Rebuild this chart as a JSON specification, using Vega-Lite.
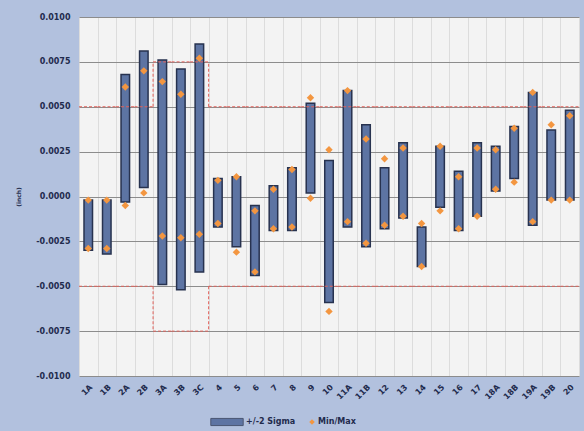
{
  "$schema": "https://vega.github.io/schema/vega-lite/v6.json",
  "width": 500,
  "height": 359,
  "autosize": {"type": "none"},
  "padding": {"left": 79, "top": 17, "right": 5, "bottom": 55},
  "background": "#b2c1de",
  "config": {
    "view": {"fill": "#f3f3f3", "stroke": "#c9ccd3"},
    "font": "DejaVu Sans",
    "axis": {"labelFont": "DejaVu Sans", "labelFontWeight": "bold", "labelColor": "#1f2b4d", "titleColor": "#1f2b4d"},
    "legend": {"labelFont": "DejaVu Sans", "labelFontWeight": "bold", "labelColor": "#1f2b4d", "labelFontSize": 8}
  },
  "datasets": {
    "stats": [
      {"cat": "1A", "lo": -0.0030, "hi": -0.0002, "min": -0.0029, "max": -0.0002, "up": 0.005, "dn": -0.005},
      {"cat": "1B", "lo": -0.0032, "hi": -0.0002, "min": -0.0029, "max": -0.0002, "up": 0.005, "dn": -0.005},
      {"cat": "2A", "lo": -0.0003, "hi": 0.0068, "min": -0.0005, "max": 0.0061, "up": 0.005, "dn": -0.005},
      {"cat": "2B", "lo": 0.0005, "hi": 0.0081, "min": 0.0002, "max": 0.0070, "up": 0.005, "dn": -0.005},
      {"cat": "3A", "lo": -0.0049, "hi": 0.0076, "min": -0.0022, "max": 0.0064, "up": 0.0075, "dn": -0.0075},
      {"cat": "3B", "lo": -0.0052, "hi": 0.0071, "min": -0.0023, "max": 0.0057, "up": 0.0075, "dn": -0.0075},
      {"cat": "3C", "lo": -0.0042, "hi": 0.0085, "min": -0.0021, "max": 0.0077, "up": 0.0075, "dn": -0.0075},
      {"cat": "4", "lo": -0.0017, "hi": 0.0010, "min": -0.0015, "max": 0.0009, "up": 0.005, "dn": -0.005},
      {"cat": "5", "lo": -0.0028, "hi": 0.0011, "min": -0.0031, "max": 0.0011, "up": 0.005, "dn": -0.005},
      {"cat": "6", "lo": -0.0044, "hi": -0.0005, "min": -0.0042, "max": -0.0008, "up": 0.005, "dn": -0.005},
      {"cat": "7", "lo": -0.0019, "hi": 0.0006, "min": -0.0018, "max": 0.0004, "up": 0.005, "dn": -0.005},
      {"cat": "8", "lo": -0.0019, "hi": 0.0016, "min": -0.0017, "max": 0.0015, "up": 0.005, "dn": -0.005},
      {"cat": "9", "lo": 0.0002, "hi": 0.0052, "min": -0.0001, "max": 0.0055, "up": 0.005, "dn": -0.005},
      {"cat": "10", "lo": -0.0059, "hi": 0.0020, "min": -0.0064, "max": 0.0026, "up": 0.005, "dn": -0.005},
      {"cat": "11A", "lo": -0.0017, "hi": 0.0059, "min": -0.0014, "max": 0.0059, "up": 0.005, "dn": -0.005},
      {"cat": "11B", "lo": -0.0028, "hi": 0.0040, "min": -0.0026, "max": 0.0032, "up": 0.005, "dn": -0.005},
      {"cat": "12", "lo": -0.0018, "hi": 0.0016, "min": -0.0016, "max": 0.0021, "up": 0.005, "dn": -0.005},
      {"cat": "13", "lo": -0.0012, "hi": 0.0030, "min": -0.0011, "max": 0.0027, "up": 0.005, "dn": -0.005},
      {"cat": "14", "lo": -0.0039, "hi": -0.0017, "min": -0.0039, "max": -0.0015, "up": 0.005, "dn": -0.005},
      {"cat": "15", "lo": -0.0006, "hi": 0.0028, "min": -0.0008, "max": 0.0028, "up": 0.005, "dn": -0.005},
      {"cat": "16", "lo": -0.0019, "hi": 0.0014, "min": -0.0018, "max": 0.0011, "up": 0.005, "dn": -0.005},
      {"cat": "17", "lo": -0.0011, "hi": 0.0030, "min": -0.0011, "max": 0.0027, "up": 0.005, "dn": -0.005},
      {"cat": "18A", "lo": 0.0003, "hi": 0.0028, "min": 0.0004, "max": 0.0026, "up": 0.005, "dn": -0.005},
      {"cat": "18B", "lo": 0.0010, "hi": 0.0039, "min": 0.0008, "max": 0.0038, "up": 0.005, "dn": -0.005},
      {"cat": "19A", "lo": -0.0016, "hi": 0.0058, "min": -0.0014, "max": 0.0058, "up": 0.005, "dn": -0.005},
      {"cat": "19B", "lo": -0.0002, "hi": 0.0037, "min": -0.0002, "max": 0.0040, "up": 0.005, "dn": -0.005},
      {"cat": "20", "lo": -0.0002, "hi": 0.0048, "min": -0.0002, "max": 0.0045, "up": 0.005, "dn": -0.005}
    ],
    "steps": [
      {"cat": "3A", "a": 0.005, "b": 0.0075},
      {"cat": "3A", "a": -0.005, "b": -0.0075},
      {"cat": "4", "a": 0.005, "b": 0.0075},
      {"cat": "4", "a": -0.005, "b": -0.0075}
    ]
  },
  "layer": [
    {
      "data": {"name": "stats"},
      "mark": {"type": "bar", "width": {"band": 0.46}, "stroke": "#27324f", "strokeWidth": 1.5},
      "encoding": {
        "x": {"field": "cat", "type": "nominal", "sort": null,
          "scale": {"domain": ["1A","1B","2A","2B","3A","3B","3C","4","5","6","7","8","9","10","11A","11B","12","13","14","15","16","17","18A","18B","19A","19B","20"], "paddingInner": 0, "paddingOuter": 0},
          "axis": {"title": null, "labelAngle": -45, "labelFontSize": 8, "labelPadding": 7, "ticks": false, "domain": false, "grid": true, "tickBand": "extent", "gridColor": "#dcdcdc", "gridWidth": 1}},
        "y": {"field": "lo", "type": "quantitative",
          "scale": {"domain": [-0.01, 0.01], "nice": false, "zero": false},
          "axis": {"title": "(inch)", "titleFontSize": 6, "titleFontWeight": "bold", "titlePadding": 14,
            "values": [-0.01, -0.0075, -0.005, -0.0025, 0, 0.0025, 0.005, 0.0075, 0.01],
            "labelExpr": "replace(format(datum.value, '.4f'), '\u2212', '-')",
            "labelFontSize": 8, "labelPadding": 9, "ticks": false, "domain": false,
            "gridColor": "#8c8c8c", "gridWidth": 1}},
        "y2": {"field": "hi"},
        "color": {"datum": "+/-2 Sigma", "type": "nominal", "scale": {"range": ["#5d74a3"]},
          "legend": {"title": null, "orient": "none", "legendX": 131, "legendY": 388,
            "symbolType": "M-1,-0.22H1V0.22H-1Z", "symbolSize": 1050, "symbolStrokeColor": "#3a4663", "symbolStrokeWidth": 1, "labelOffset": 2,
            "encode": {"symbols": {"update": {"fill": {"value": "#c9d1e4"}, "stroke": {"value": "#4a5673"}}}}}}
      }
    },
    {
      "data": {"name": "stats"},
      "mark": {"type": "rule", "color": "#e2615a", "strokeDash": [3, 2], "strokeWidth": 1},
      "encoding": {
        "x": {"field": "cat", "type": "nominal", "sort": null, "bandPosition": 0},
        "x2": {"field": "cat", "bandPosition": 1},
        "y": {"field": "up", "type": "quantitative"}
      }
    },
    {
      "data": {"name": "stats"},
      "mark": {"type": "rule", "color": "#e2615a", "strokeDash": [3, 2], "strokeWidth": 1},
      "encoding": {
        "x": {"field": "cat", "type": "nominal", "sort": null, "bandPosition": 0},
        "x2": {"field": "cat", "bandPosition": 1},
        "y": {"field": "dn", "type": "quantitative"}
      }
    },
    {
      "data": {"name": "steps"},
      "mark": {"type": "rule", "color": "#e2615a", "strokeDash": [3, 2], "strokeWidth": 1},
      "encoding": {
        "x": {"field": "cat", "type": "nominal", "sort": null, "bandPosition": 0},
        "y": {"field": "a", "type": "quantitative"},
        "y2": {"field": "b"}
      }
    },
    {
      "data": {"name": "stats"},
      "mark": {"type": "point", "shape": "diamond", "filled": true, "size": 55, "opacity": 1},
      "encoding": {
        "x": {"field": "cat", "type": "nominal", "sort": null},
        "y": {"field": "min", "type": "quantitative"},
        "fill": {"datum": "Min/Max", "type": "nominal", "scale": {"range": ["#f39640"]},
          "legend": {"title": null, "orient": "none", "legendX": 229, "legendY": 401, "symbolType": "diamond", "symbolSize": 30, "labelOffset": 2}}
      }
    },
    {
      "data": {"name": "stats"},
      "mark": {"type": "point", "shape": "diamond", "filled": true, "size": 55, "opacity": 1},
      "encoding": {
        "x": {"field": "cat", "type": "nominal", "sort": null},
        "y": {"field": "max", "type": "quantitative"},
        "fill": {"datum": "Min/Max", "type": "nominal"}
      }
    }
  ]
}
